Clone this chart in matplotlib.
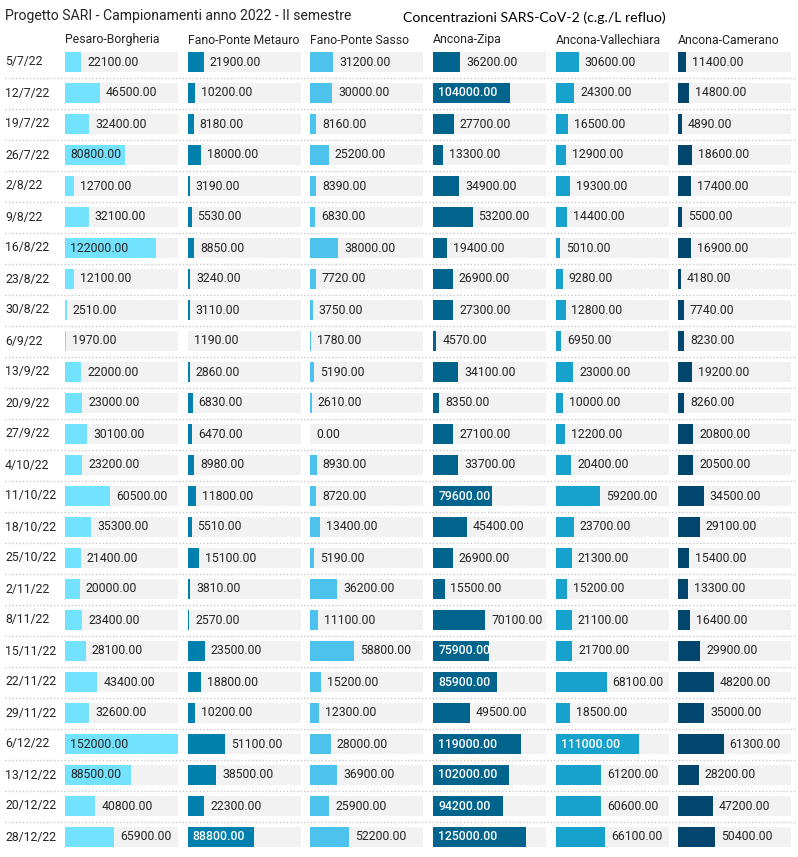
import matplotlib
matplotlib.use('Agg')
import matplotlib.pyplot as plt
import numpy as np

dates = ['5/7/22', '12/7/22', '19/7/22', '26/7/22', '2/8/22', '9/8/22', '16/8/22',
         '23/8/22', '30/8/22', '6/9/22', '13/9/22', '20/9/22', '27/9/22', '4/10/22',
         '11/10/22', '18/10/22', '25/10/22', '2/11/22', '8/11/22', '15/11/22',
         '22/11/22', '29/11/22', '6/12/22', '13/12/22', '20/12/22', '28/12/22']

sites = ['Pesaro-Borgheria', 'Fano-Ponte Metauro', 'Fano-Ponte Sasso',
         'Ancona-Zipa', 'Ancona-Vallechiara', 'Ancona-Camerano']

pesaro = [22100, 46500, 32400, 80800, 12700, 32100, 122000, 12100, 2510, 1970, 22000,
          23000, 30100, 23200, 60500, 35300, 21400, 20000, 23400, 28100, 43400, 32600,
          152000, 88500, 40800, 65900]
fano_pm = [21900, 10200, 8180, 18000, 3190, 5530, 8850, 3240, 3110, 1190, 2860, 6830,
           6470, 8980, 11800, 5510, 15100, 3810, 2570, 23500, 18800, 10200, 51100,
           38500, 22300, 88800]
fano_ps = [31200, 30000, 8160, 25200, 8390, 6830, 38000, 7720, 3750, 1780, 5190, 2610,
           0, 8930, 8720, 13400, 5190, 36200, 11100, 58800, 15200, 12300, 28000, 36900,
           25900, 52200]
zipa = [36200, 104000, 27700, 13300, 34900, 53200, 19400, 26900, 27300, 4570, 34100,
        8350, 27100, 33700, 79600, 45400, 26900, 15500, 70100, 75900, 85900, 49500,
        119000, 102000, 94200, 125000]
vallechiara = [30600, 24300, 16500, 12900, 19300, 14400, 5010, 9280, 12800, 6950, 23000,
               10000, 12200, 20400, 59200, 23700, 21300, 15200, 21100, 21700, 68100,
               18500, 111000, 61200, 60600, 66100]
camerano = [11400, 14800, 4890, 18600, 17400, 5500, 16900, 4180, 7740, 8230, 19200, 8260,
            20800, 20500, 34500, 29100, 15400, 13300, 16400, 29900, 48200, 35000, 61300,
            28200, 47200, 50400]

columns = [pesaro, fano_pm, fano_ps, zipa, vallechiara, camerano]
colors = ['#73E2FE', '#0080AC', '#4CC2EC', '#00648C', '#17A2CE', '#00466E']
inside_text = ['#252423', 'white', '#252423', 'white', 'white', 'white']

plt.rcParams['font.family'] = ['Roboto', 'DejaVu Sans']

W, H = 798, 857
fig = plt.figure(figsize=(W / 100, H / 100), dpi=100)

n = len(dates)
vmax = max(max(c) for c in columns)
top_px, bot_px = 46.5, 852.5
ax_b = 1 - bot_px / H
ax_h = (bot_px - top_px) / H

# row separators and date labels
bg = fig.add_axes([5 / W, ax_b, 790 / W, ax_h])
bg.set_xlim(0, 1)
bg.set_ylim(n - 0.5, -0.5)
bg.axis('off')
for i in range(n - 1):
    bg.axhline(i + 0.5, color='#C8C8C8', lw=1, ls=(0, (1, 1.5)))
for i, d in enumerate(dates):
    bg.text(0, i, d, ha='left', va='center', fontsize=8.8, color='#252423')

lefts = [65, 187.5, 310, 433, 556, 678]
cw = 113
y = np.arange(n)
for k, vals in enumerate(columns):
    ax = fig.add_axes([lefts[k] / W, ax_b, cw / W, ax_h])
    ax.set_xlim(0, vmax)
    ax.set_ylim(n - 0.5, -0.5)
    ax.axis('off')
    ax.barh(y, [vmax] * n, height=0.645, color='#F2F2F2', left=0)
    ax.barh(y, vals, height=0.645, color=colors[k])
    for i, v in enumerate(vals):
        lab = f'{v:.2f}'
        if v >= 75000:
            ax.annotate(lab, (0, i), xytext=(3.8, 0), textcoords='offset points',
                        ha='left', va='center', fontsize=8.8, color=inside_text[k],
                        fontweight='medium' if inside_text[k] == 'white' else 'normal')
        else:
            ax.annotate(lab, (v, i), xytext=(4.3, 0), textcoords='offset points',
                        ha='left', va='center', fontsize=8.8, color='#252423')
    fig.text(lefts[k] / W, 1 - 40 / H, sites[k], ha='left', va='center',
             fontsize=8.8, color='#252423')

fig.text(5 / W, 1 - 16 / H, 'Progetto SARI - Campionamenti anno 2022 - II semestre',
         ha='left', va='center', fontsize=10.1, color='#252423')
fig.text(403 / W, 1 - 18 / H, 'Concentrazioni SARS-CoV-2 (c.g./L refluo)',
         ha='left', va='center', fontsize=10.2, color='#000000', family=['Lato', 'DejaVu Sans'])

fig.savefig('out.png', dpi=100)
